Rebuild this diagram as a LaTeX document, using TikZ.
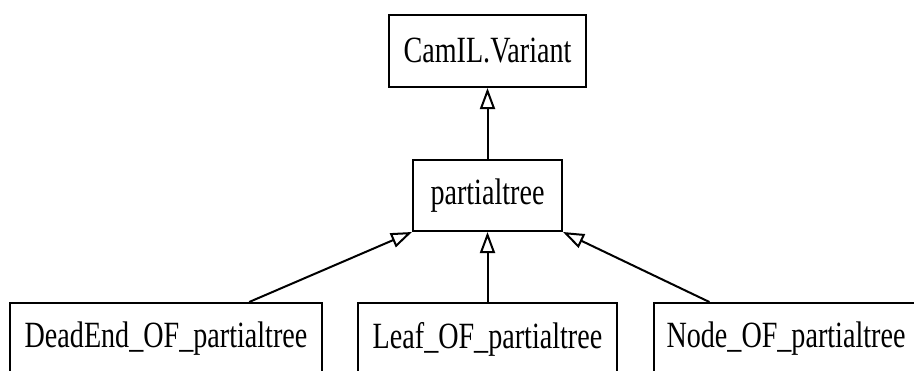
\documentclass[tikz,border=0pt]{standalone}
\usepackage{fontspec}
\setmainfont{Liberation Serif}[FakeStretch=0.76]
\usepackage{tikz}
\usetikzlibrary{positioning,arrows.meta,calc}

\begin{document}
\begin{tikzpicture}[
    x=1pt, y=1pt,
    line width=2pt,
    cls/.style={draw, rectangle, inner sep=0pt, font=\fontsize{37}{40}\selectfont},
    inherit/.style={-{Triangle[open, length=21pt, width=15pt, fill=white]}}
]
\useasboundingbox (0,0) rectangle (914,-370);

% Column positions
\def\colA{166}
\def\colB{487.5}
\def\colC{786}

% === Top: base class ===
\node[cls, minimum width=197pt, minimum height=72pt] (variant) at (\colB, -51) {CamIL.Variant};

% === Middle: the type ===
\node[cls, minimum width=149pt, minimum height=71pt] (ptree) at (\colB, -195.5) {partialtree};

% === Bottom: constructors ===
\node[cls, minimum width=312pt, minimum height=72pt] (deadend) at (\colA, -339) {DeadEnd\_OF\_partialtree};
\node[cls, minimum width=259pt, minimum height=72pt] (leaf) at (\colB, -339) {Leaf\_OF\_partialtree};
\node[cls, minimum width=264pt, minimum height=72pt] (nodeof) at (\colC, -339) {Node\_OF\_partialtree};

% Inheritance arrows
\draw[inherit] (ptree) -- (variant);
\draw[inherit] ($(deadend.north)!0.53!(deadend.north east)$) -- (ptree.south west);
\draw[inherit] (leaf) -- (ptree);
\draw[inherit] ($(nodeof.north)!0.576!(nodeof.north west)$) -- (ptree.south east);

\end{tikzpicture}
\end{document}
